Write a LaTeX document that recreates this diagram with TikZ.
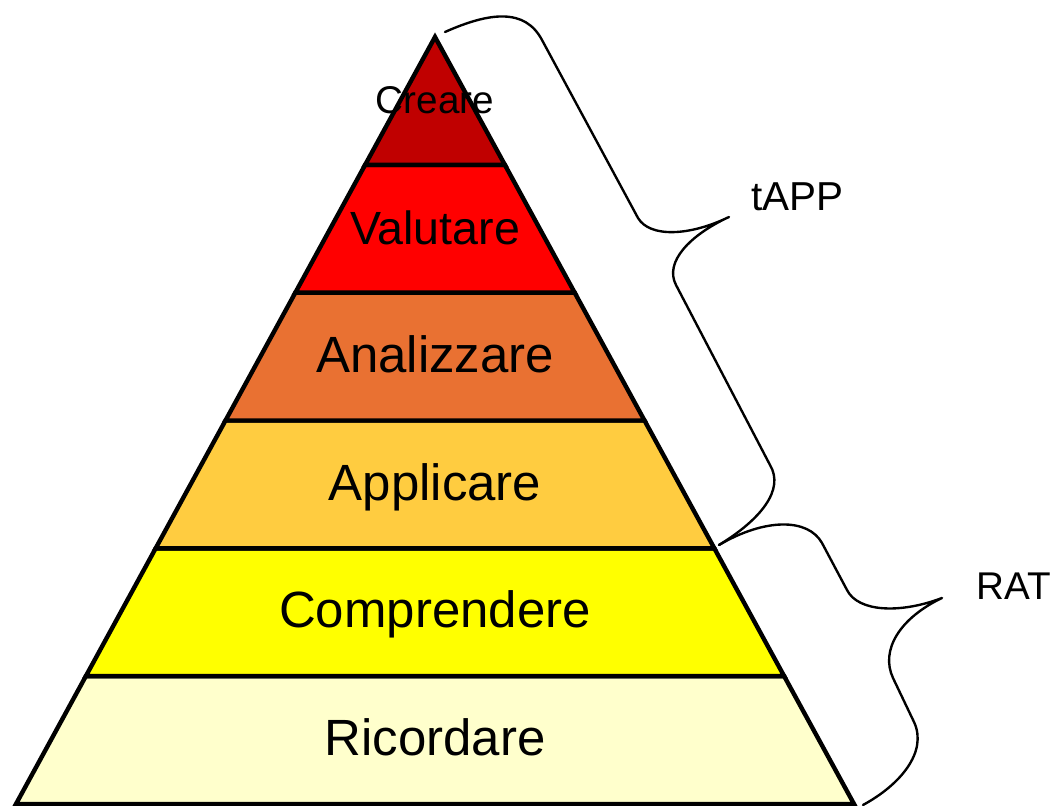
\documentclass[tikz,border=0pt]{standalone}
\usepackage{fontspec}
\setmainfont{Liberation Sans}
\usepackage{tikz}

\definecolor{creare}{HTML}{C00000}
\definecolor{valutare}{HTML}{FF0000}
\definecolor{analizzare}{HTML}{E97132}
\definecolor{applicare}{HTML}{FFCC40}
\definecolor{comprendere}{HTML}{FFFF00}
\definecolor{ricordare}{HTML}{FFFFCC}

\tikzset{
  layer/.style={draw=black, line width=2.5pt, line join=miter},
  layerlabel/.style={anchor=base, inner sep=0pt, font=\fontsize{29}{34}\selectfont},
  brace/.style={draw=black, line width=1.35pt, line cap=round, line join=round},
  bracelabel/.style={anchor=base west, inner sep=0pt, font=\fontsize{23}{28}\selectfont},
}

\begin{document}
\begin{tikzpicture}
\useasboundingbox (0,0) rectangle (21.06,16.12);
% pyramid layers, bottom to top
\filldraw[layer, fill=ricordare] (0.320,0.040) -- (17.080,0.040) -- (15.683,2.597) -- (1.717,2.597) -- cycle;
\filldraw[layer, fill=comprendere] (1.717,2.597) -- (15.683,2.597) -- (14.287,5.153) -- (3.113,5.153) -- cycle;
\filldraw[layer, fill=applicare] (3.113,5.153) -- (14.287,5.153) -- (12.890,7.710) -- (4.510,7.710) -- cycle;
\filldraw[layer, fill=analizzare] (4.510,7.710) -- (12.890,7.710) -- (11.493,10.267) -- (5.907,10.267) -- cycle;
\filldraw[layer, fill=valutare] (5.907,10.267) -- (11.493,10.267) -- (10.097,12.823) -- (7.303,12.823) -- cycle;
\filldraw[layer, fill=creare] (7.303,12.823) -- (10.097,12.823) -- (8.700,15.380) -- cycle;
\node[layerlabel] (ricordare) at (8.700,1.000) {Ricordare};
\node[layerlabel] (comprendere) at (8.700,3.560) {Comprendere};
\node[layerlabel] (applicare) at (8.700,6.100) {Applicare};
\node[layerlabel] (analizzare) at (8.700,8.660) {Analizzare};
\node[layerlabel, font=\fontsize{26.5}{31}\selectfont] (valutare) at (8.700,11.220) {Valutare};
\node[layerlabel, font=\fontsize{22}{26}\selectfont] (creare) at (8.700,13.840) {Creare};
% braces along the right side
\draw[brace] (8.90,15.48) .. controls (9.80,15.88) and (10.50,15.96) .. (10.84,15.32)
  -- (12.76,11.76) .. controls (13.00,11.36) and (13.80,11.40) .. (14.58,11.78)
  .. controls (13.80,11.42) and (13.28,10.88) .. (13.52,10.42)
  -- (15.40,6.82) .. controls (15.70,6.32) and (15.20,5.72) .. (14.38,5.22);
\draw[brace] (14.38,5.22) .. controls (15.30,5.76) and (16.16,5.76) .. (16.44,5.26)
  -- (16.94,4.32) .. controls (17.16,3.88) and (18.00,3.84) .. (18.84,4.16)
  .. controls (18.00,3.76) and (17.60,3.12) .. (17.86,2.56)
  -- (18.28,1.68) .. controls (18.56,1.08) and (18.00,0.42) .. (17.26,0.02);
\node[bracelabel] (tapp) at (15.02,11.90) {tAPP};
\node[bracelabel, font=\fontsize{22}{26}\selectfont] (rat) at (19.52,4.12) {RAT};
\end{tikzpicture}
\end{document}
